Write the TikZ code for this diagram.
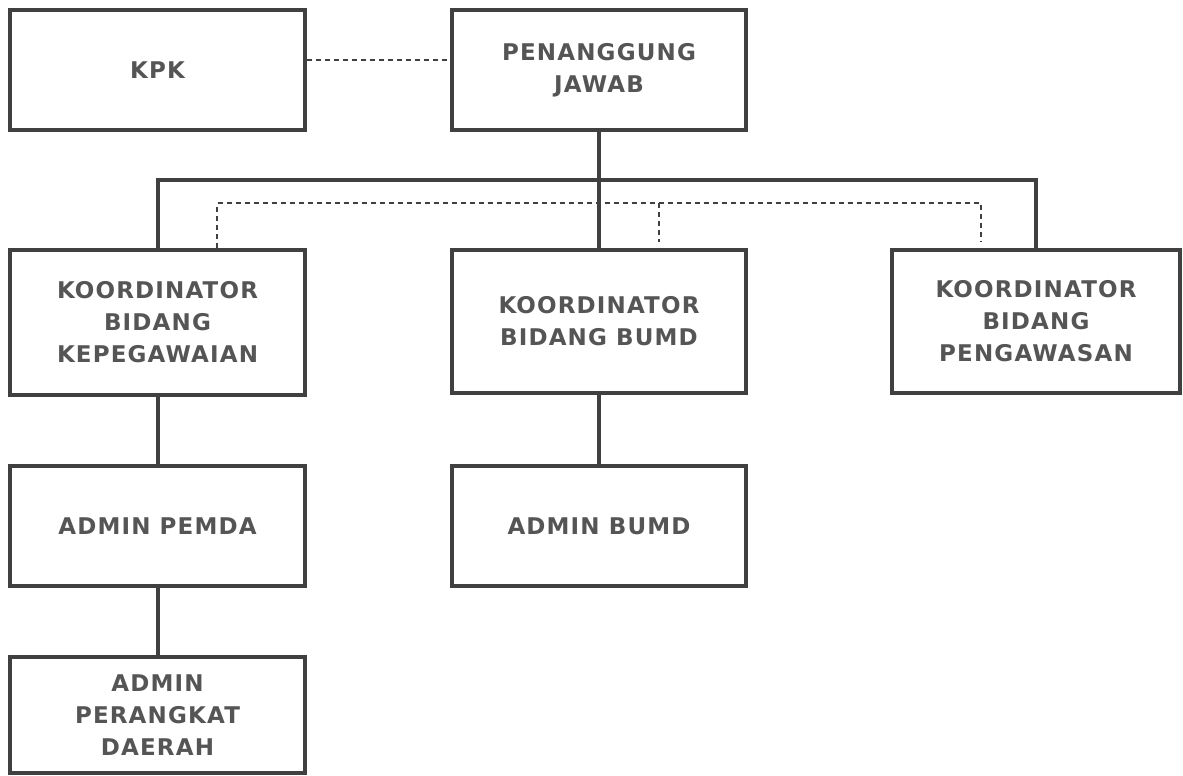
\documentclass[tikz,border=0pt]{standalone}
\usepackage{fontspec}
\setmainfont{DejaVu Sans}[BoldFont={DejaVu Sans Bold}]
\newfontfamily\boxfont{DejaVu Sans Bold}[LetterSpace=5]
\definecolor{linegray}{HTML}{404040}
\definecolor{textgray}{HTML}{555555}
\begin{document}
\begin{tikzpicture}[x=1pt,y=-1pt,
  orgbox/.style={draw=linegray,line width=4pt,rectangle,inner sep=0pt,align=center,
    text=textgray,font=\boxfont\fontsize{23}{32}\selectfont},
  solidline/.style={draw=linegray,line width=4pt},
  dotline/.style={draw=linegray,line width=2pt,dash pattern=on 5pt off 4pt}]
\useasboundingbox (0,0) rectangle (1183,776);
\node[orgbox,minimum width=295pt,minimum height=120pt] (kpk) at (157.5,70) {KPK};
\node[orgbox,minimum width=294pt,minimum height=120pt] (pj) at (599,70) {PENANGGUNG\\JAWAB};
\node[orgbox,minimum width=295pt,minimum height=145pt] (kb) at (157.5,322) {KOORDINATOR\\BIDANG\\KEPEGAWAIAN};
\node[orgbox,minimum width=294pt,minimum height=143pt] (km) at (599,321.5) {KOORDINATOR\\BIDANG BUMD};
\node[orgbox,minimum width=288pt,minimum height=143pt] (kp) at (1036,321.5) {KOORDINATOR\\BIDANG\\PENGAWASAN};
\node[orgbox,minimum width=295pt,minimum height=120pt] (ap) at (157.5,526) {ADMIN PEMDA};
\node[orgbox,minimum width=294pt,minimum height=120pt] (ab) at (599,526) {ADMIN BUMD};
\node[orgbox,minimum width=295pt,minimum height=116pt] (apd) at (157.5,715) {ADMIN\\PERANGKAT\\DAERAH};
\coordinate (bus) at (599,180);
\coordinate (dl) at (217,203);
\coordinate (dm) at (659,203);
\coordinate (dmend) at (659,242);
\coordinate (dr) at (981,203);
\coordinate (drend) at (981,242);
\draw[dotline] (kpk.east |- 0,60) -- (pj.west |- 0,60);
\draw[solidline] (pj.south) -- (km.north);
\draw[solidline] (kb.north) |- (bus) -| (kp.north);
\draw[dotline] (kb.north -| dl) -- (dl) -- (dr) -- (drend);
\draw[dotline] (dm) -- (dmend);
\draw[solidline] (kb.south) -- (ap.north);
\draw[solidline] (ap.south) -- (apd.north);
\draw[solidline] (km.south) -- (ab.north);
\end{tikzpicture}
\end{document}
